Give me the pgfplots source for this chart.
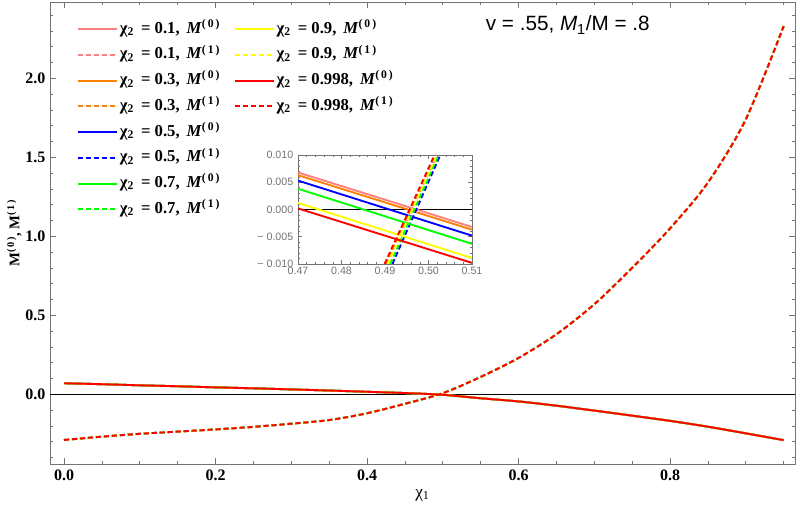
\documentclass[border=0pt]{standalone}
\usepackage{pgfplots}
\pgfplotsset{compat=1.18}
\usepackage{pgfplotstable}
\usepackage{fontspec}
\setmainfont{Liberation Serif}
\newfontfamily\arial{Liberation Sans}

\definecolor{cPink}{rgb}{1,0.5,0.5}
\definecolor{cOrange}{rgb}{1,0.5,0}
\definecolor{cBlue}{rgb}{0,0,1}
\definecolor{cGreen}{rgb}{0,1,0}
\definecolor{cYellow}{rgb}{1,1,0}
\definecolor{cRed}{rgb}{1,0,0}
\definecolor{frameg}{gray}{0.45}

% x, M^(0) (solid), M^(1) (dashed) -- curves for all chi_2 coincide at this scale
\pgfplotstableread{
x     s       d
0.00  0.070  -0.289
0.05  0.064  -0.268
0.10  0.057  -0.250
0.15  0.051  -0.236
0.20  0.044  -0.222
0.25  0.038  -0.206
0.30  0.031  -0.186
0.35  0.024  -0.163
0.40  0.016  -0.120
0.45  0.008  -0.060
0.50  -0.003  0.007
0.55  -0.025  0.110
0.60  -0.045  0.230
0.65  -0.072  0.380
0.70  -0.103  0.570
0.75  -0.135  0.800
0.80  -0.168  1.050
0.85  -0.205  1.340
0.90  -0.247  1.740
0.95  -0.290  2.330
}\maindata

\tikzset{sol/.style={line width=1.4pt}, das/.style={line width=1.4pt, dash pattern=on 3.8pt off 2.2pt}}
\newcommand{\lent}[2]{χ\textsubscript{2}\, = #1,\, \textit{M}\textsuperscript{(\,#2\,)}}

\begin{document}
\begin{tikzpicture}
\begin{axis}[
  at={(37.5pt,31.5pt)}, anchor=south west,
  width=558.75pt, height=346.5pt, scale only axis,
  xmin=-0.0185, xmax=0.965, ymin=-0.441, ymax=2.483,
  xtick={0,0.2,0.4,0.6,0.8}, xticklabels={0.0,0.2,0.4,0.6,0.8},
  ytick={0,0.5,1,1.5,2}, yticklabels={0.0,0.5,1.0,1.5,2.0},
  minor xtick={0.05,0.1,...,0.96},
  minor ytick={-0.4,-0.3,...,2.45},
  tick align=inside,
  major tick length=4.5pt, minor tick length=2.5pt,
  axis line style={frameg, line width=0.6pt},
  tick style={frameg, line width=0.5pt},
  /pgf/number format/assume math mode=true,
  ticklabel style={font=\bfseries\fontsize{12}{12}\selectfont},
  xticklabel style={yshift=-1pt},
  xlabel={χ\textsubscript{1}},
  xlabel style={at={(axis description cs:0.5,-0.067)}, anchor=center, font=\fontsize{13}{13}\selectfont},
  ylabel={M\textsuperscript{(\,0\,)}, M\textsuperscript{(\,1\,)}},
  ylabel style={at={(axis description cs:-0.048,0.5)}, anchor=center, rotate=0, font=\bfseries\fontsize{11}{11}\selectfont},
  legend style={at={(axis description cs:0.031,0.972)}, anchor=north west, draw=none, fill=none,
    font=\bfseries\fontsize{12.5}{12.5}\selectfont,
    nodes={inner sep=1.5pt, text height=10pt, text depth=4pt}, row sep=2.3pt,
    /tikz/every even column/.append style={column sep=9pt}},
  legend cell align=left,
  transpose legend, legend columns=8,
  legend image code/.code={\draw[#1] (0pt,0pt) -- (29pt,0pt);},
]
\addplot[black, line width=0.6pt, forget plot] coordinates {(-0.1,0) (1.1,0)};

\addplot[cPink, sol, smooth] table[x=x,y=s] {\maindata};
\addlegendentry{\lent{0.1}{0}}
\addplot[cPink, das, smooth] table[x=x,y=d] {\maindata};
\addlegendentry{\lent{0.1}{1}}
\addplot[cOrange, sol, smooth] table[x=x,y=s] {\maindata};
\addlegendentry{\lent{0.3}{0}}
\addplot[cOrange, das, smooth] table[x=x,y=d] {\maindata};
\addlegendentry{\lent{0.3}{1}}
\addplot[cBlue, sol, smooth] table[x=x,y=s] {\maindata};
\addlegendentry{\lent{0.5}{0}}
\addplot[cBlue, das, smooth] table[x=x,y=d] {\maindata};
\addlegendentry{\lent{0.5}{1}}
\addplot[cGreen, sol, smooth] table[x=x,y=s] {\maindata};
\addlegendentry{\lent{0.7}{0}}
\addplot[cGreen, das, smooth] table[x=x,y=d] {\maindata};
\addlegendentry{\lent{0.7}{1}}
\addplot[cYellow, sol, smooth] table[x=x,y=s] {\maindata};
\addlegendentry{\lent{0.9}{0}}
\addplot[cYellow, das, smooth] table[x=x,y=d] {\maindata};
\addlegendentry{\lent{0.9}{1}}
\addplot[cRed, sol, smooth] table[x=x,y=s] {\maindata};
\addlegendentry{\lent{0.998}{0}}
\addplot[cRed, das, smooth] table[x=x,y=d] {\maindata};
\addlegendentry{\lent{0.998}{1}}
\addlegendimage{empty legend}\addlegendentry{}
\addlegendimage{empty legend}\addlegendentry{}
\addlegendimage{empty legend}\addlegendentry{}
\addlegendimage{empty legend}\addlegendentry{}

\node[anchor=center, font=\arial\fontsize{15.5}{16}\selectfont] at (axis description cs:0.695,0.950)
  {v = .55, \textit{M}\textsubscript{1}/M = .8};
\end{axis}

\begin{axis}[
  at={(223.5pt,181.5pt)}, anchor=south west,
  width=130.5pt, height=81.75pt, scale only axis,
  xmin=0.47, xmax=0.51, ymin=-0.01, ymax=0.01,
  xtick={0.47,0.48,0.49,0.50,0.51}, xticklabels={0.47,0.48,0.49,0.50,0.51},
  ytick={-0.01,-0.005,0,0.005,0.01}, yticklabels={− 0.010,− 0.005,0.000,0.005,0.010},
  scaled ticks=false,
  minor x tick num=4, minor y tick num=4,
  tick align=inside,
  major tick length=3pt, minor tick length=1.8pt,
  axis line style={frameg, line width=0.6pt},
  tick style={frameg, line width=0.4pt},
  /pgf/number format/assume math mode=true,
  ticklabel style={font=\arial\fontsize{8}{9}\selectfont, text=black!55},
  xticklabel style={yshift=1pt},
  axis background/.style={fill=white},
]
\addplot[black, line width=0.6pt] coordinates {(0.46,0) (0.52,0)};
\addplot[cPink, sol] coordinates {(0.47,0.0068) (0.51,-0.0032)};
\addplot[cPink, das] coordinates {(0.4900,-0.0100) (0.5018,0.0100)};
\addplot[cOrange, sol] coordinates {(0.47,0.0063) (0.51,-0.0037)};
\addplot[cOrange, das] coordinates {(0.4902,-0.0100) (0.5020,0.0100)};
\addplot[cBlue, sol] coordinates {(0.47,0.0053) (0.51,-0.0048)};
\addplot[cBlue, das] coordinates {(0.4917,-0.0100) (0.5027,0.0100)};
\addplot[cGreen, sol] coordinates {(0.47,0.0038) (0.51,-0.0063)};
\addplot[cGreen, das] coordinates {(0.4912,-0.0100) (0.5023,0.0100)};
\addplot[cYellow, sol] coordinates {(0.47,0.0012) (0.51,-0.0089)};
\addplot[cYellow, das] coordinates {(0.4906,-0.0100) (0.5019,0.0100)};
\addplot[cRed, sol] coordinates {(0.47,0.0002) (0.51,-0.0098)};
\addplot[cRed, das] coordinates {(0.4899,-0.0100) (0.5014,0.0100)};
\end{axis}
\pgfresetboundingbox
\path (0,0) rectangle (600pt,379.5pt);
\end{tikzpicture}
\end{document}
